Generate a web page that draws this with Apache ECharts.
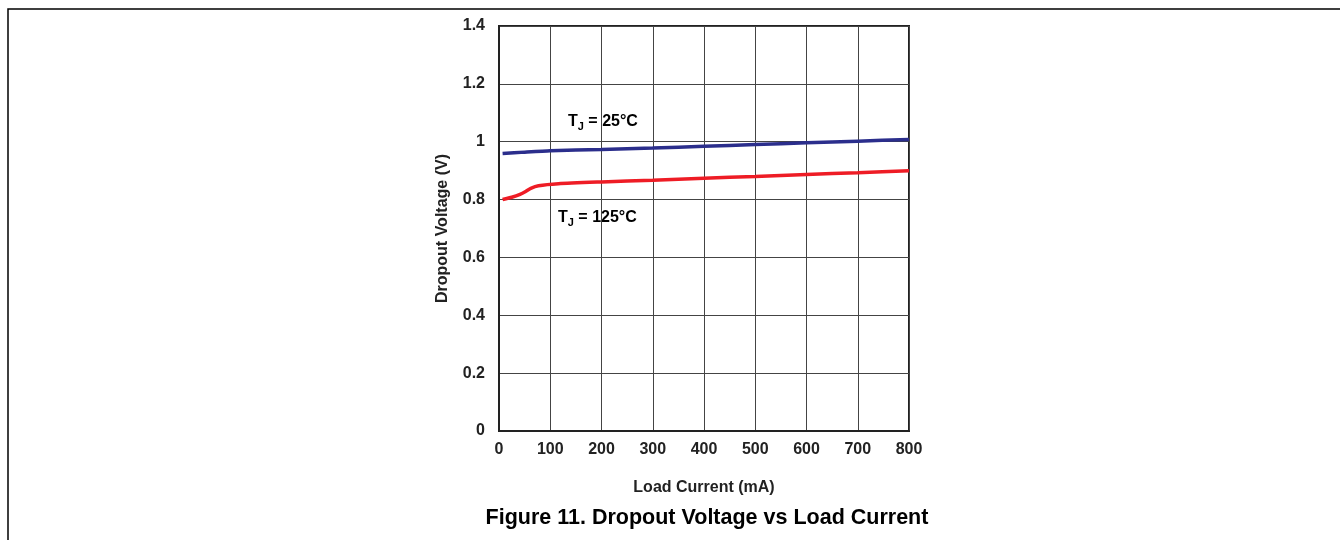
<!DOCTYPE html>
<html>
<head>
<meta charset="utf-8">
<script src="https://cdn.jsdelivr.net/npm/echarts@6/dist/echarts.min.js"></script>
<style>
html,body{margin:0;padding:0;background:#fff;}
#c{width:1340px;height:540px;}
</style>
</head>
<body>
<div id="c"></div>
<script>
// Data
const loadCurrent25 = [7, 50, 100, 200, 300, 400, 500, 600, 700, 800];
const dropout25 = [0.959, 0.964, 0.969, 0.973, 0.978, 0.984, 0.990, 0.996, 1.002, 1.008];
const loadCurrent125 = [7, 25, 41, 52, 62, 77, 116, 200, 300, 400, 500, 600, 700, 800];
const dropout125 = [0.800, 0.808, 0.818, 0.828, 0.839, 0.848, 0.855, 0.861, 0.867, 0.874, 0.880, 0.887, 0.893, 0.900];
const seriesNames = ['TJ = 25°C', 'TJ = 125°C'];
const xAxisName = 'Load Current (mA)';
const yAxisName = 'Dropout Voltage (V)';
const titleText = 'Figure 11. Dropout Voltage vs Load Current';

const FONT = "'Liberation Sans', Arial, sans-serif";
const pairs = (xs, ys) => xs.map((x, i) => [x, ys[i]]);

const chart = echarts.init(document.getElementById('c'), null, {renderer: 'canvas'});
const labelRich = {
  t: {fontFamily: FONT, fontWeight: 'bold', fontSize: 16, color: '#222'},
  s: {fontFamily: FONT, fontWeight: 'bold', fontSize: 11, color: '#222', verticalAlign: 'bottom', padding: [10, 0, 0, 0]}
};
chart.setOption({
  animation: false,
  backgroundColor: '#fff',
  title: {
    text: titleText,
    left: 702, top: 502, textAlign: 'center',
    textStyle: {fontFamily: FONT, fontWeight: 'bold', fontSize: 21.5, color: '#000'}
  },
  grid: {left: 499, top: 26, right: 431, bottom: 109, show: true, borderColor: '#222', borderWidth: 2, backgroundColor: 'transparent'},
  xAxis: {
    type: 'value', min: 0, max: 800, interval: 100,
    name: xAxisName, nameLocation: 'middle', nameGap: 49,
    nameTextStyle: {fontFamily: FONT, fontWeight: 'bold', fontSize: 16, color: '#222'},
    axisLine: {show: true, lineStyle: {color: '#222', width: 2}},
    axisTick: {show: false},
    axisLabel: {fontFamily: FONT, fontWeight: 'bold', fontSize: 16, color: '#222', margin: 11},
    splitLine: {show: true, lineStyle: {color: '#444', width: 1}}
  },
  yAxis: {
    type: 'value', min: 0, max: 1.4, interval: 0.2,
    name: yAxisName, nameLocation: 'middle', nameGap: 48, nameRotate: 90,
    nameTextStyle: {fontFamily: FONT, fontWeight: 'bold', fontSize: 16, color: '#222'},
    axisLine: {show: true, lineStyle: {color: '#222', width: 2}},
    axisTick: {show: false},
    axisLabel: {fontFamily: FONT, fontWeight: 'bold', fontSize: 16, color: '#222', margin: 14,
      formatter: v => String(Math.round(v * 10) / 10)},
    splitLine: {show: true, lineStyle: {color: '#444', width: 1}}
  },
  series: [
    {name: seriesNames[0], type: 'line', data: pairs(loadCurrent25, dropout25), showSymbol: false, smooth: 0.2,
     lineStyle: {color: '#2B2E8C', width: 3.5}, itemStyle: {color: '#2B2E8C'}, z: 3},
    {name: seriesNames[1], type: 'line', data: pairs(loadCurrent125, dropout125), showSymbol: false, smooth: 0.2,
     lineStyle: {color: '#EE1C25', width: 3.5}, itemStyle: {color: '#EE1C25'}, z: 3}
  ],
  graphic: [
    {type: 'polyline', shape: {points: [[8, 540], [8, 9], [1340, 9]]}, style: {stroke: '#000', lineWidth: 1.5, fill: null}, silent: true},
    {type: 'text', left: 568, top: 114, style: {text: '{t|T}{s|J}{t| = 25°C}', rich: labelRich}},
    {type: 'text', left: 558, top: 210, style: {text: '{t|T}{s|J}{t| = 125°C}', rich: labelRich}}
  ]
});
</script>
</body>
</html>
